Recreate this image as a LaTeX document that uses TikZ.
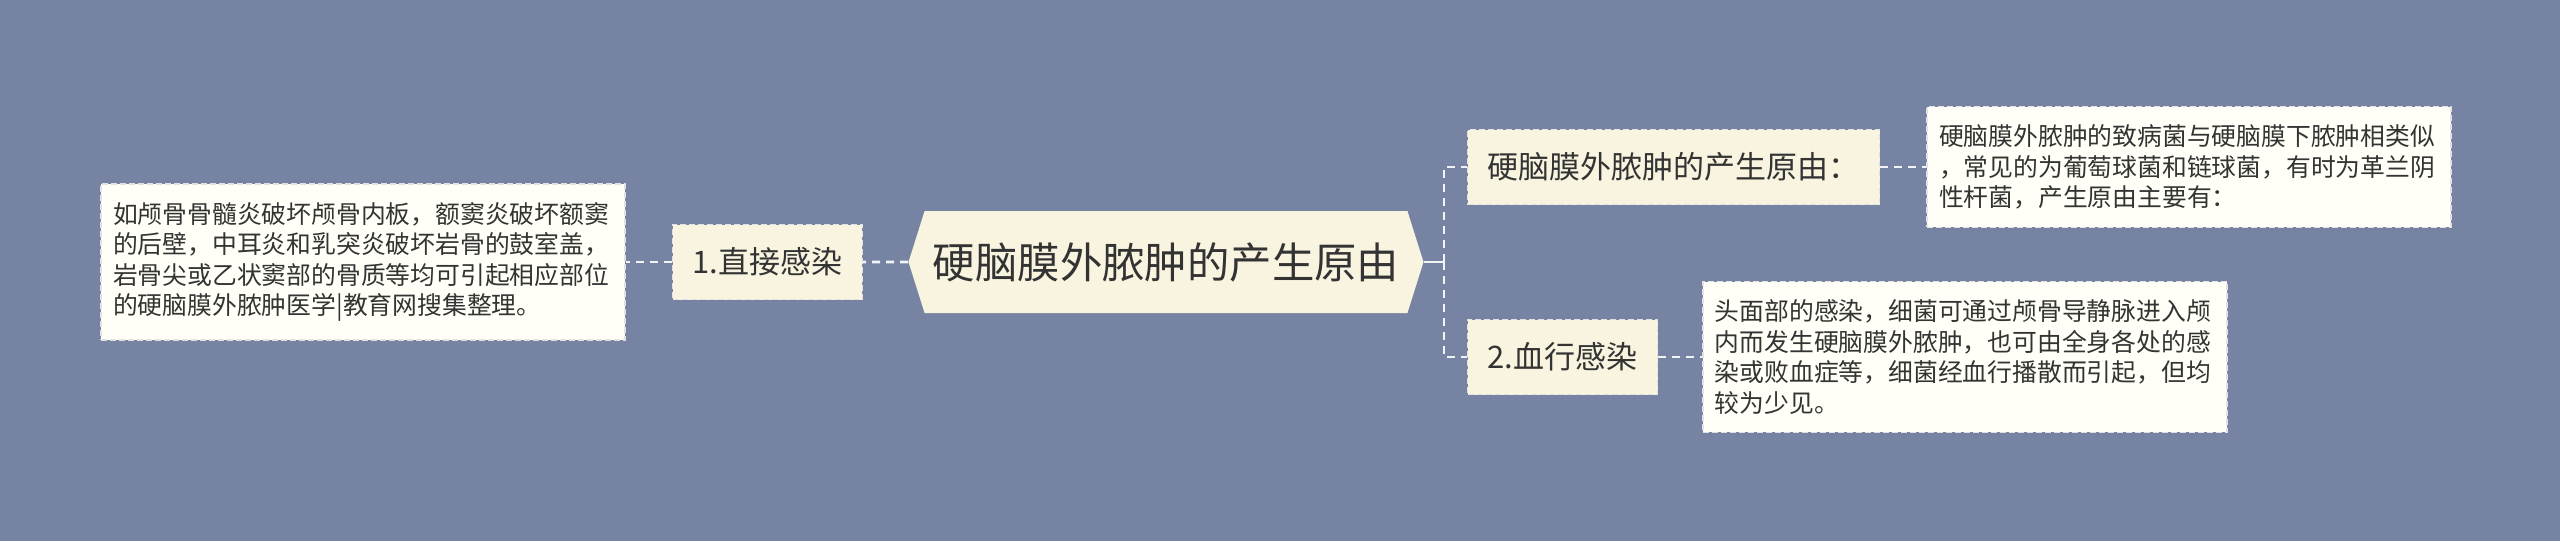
\documentclass[tikz,border=0pt]{standalone}
\usepackage{fontspec}
\setmainfont{Noto Sans CJK SC}
\usetikzlibrary{positioning,shapes.symbols}
\definecolor{slate}{HTML}{7783A3}
\definecolor{cream}{HTML}{F8F4E0}
\definecolor{paper}{HTML}{FFFFF7}
\definecolor{ink}{HTML}{333333}
\definecolor{rim}{HTML}{E2E2E2}

\begin{document}
\begin{tikzpicture}[x=0.5pt,y=-0.5pt,node distance=23pt,
      root node/.style={signal,signal to=west and east,signal pointer angle=145,
        fill=cream,text=ink,minimum width=257.5pt,minimum height=51pt,
        font=\fontsize{21.2pt}{25pt}\selectfont},
      topic node/.style={rectangle,draw=rim,line width=0.7pt,dash pattern=on 3pt off 1.5pt,
        fill=cream,text=ink,minimum height=37.5pt,inner xsep=10pt,
        font=\fontsize{15.5pt}{18pt}\selectfont},
      text node/.style={rectangle,draw=rim,line width=0.7pt,dash pattern=on 3pt off 1.5pt,
        fill=paper,text=ink,text width=250pt,align=left,inner xsep=6pt,inner ysep=9pt,
        font=\fontsize{12.4pt}{15.3pt}\selectfont},
      link/.style={draw=white!90!slate,line width=1.3pt,dash pattern=on 4pt off 3pt}]
 \useasboundingbox (0,0) rectangle (2560,541);
 \fill[slate] (0,0) rectangle (2560,541);

 \node[root node] (root) at (1166,262) {硬脑膜外脓肿的产生原由};
 \node[topic node] (direct) [left=22.5pt of root] {1.直接感染};
 \node[text node] (directtext) [left=of direct] {如颅骨骨髓炎破坏颅骨内板，额窦炎破坏额窦\\的后壁，中耳炎和乳突炎破坏岩骨的鼓室盖，\\岩骨尖或乙状窦部的骨质等均可引起相应部位\\的硬脑膜外脓肿医学|教育网搜集整理。};
 \coordinate (fork) at (1444,262);
 \node[topic node, anchor=west] (cause) at (1467,167) {硬脑膜外脓肿的产生原由：};
 \node[text node] (causetext) [right=of cause] {硬脑膜外脓肿的致病菌与硬脑膜下脓肿相类似\\，常见的为葡萄球菌和链球菌，有时为革兰阴\\性杆菌，产生原由主要有：};
 \node[topic node, anchor=west] (blood) at (1467,357) {2.血行感染};
 \node[text node] (bloodtext) [right=22pt of blood] {头面部的感染，细菌可通过颅骨导静脉进入颅\\内而发生硬脑膜外脓肿，也可由全身各处的感\\染或败血症等，细菌经血行播散而引起，但均\\较为少见。};

\path[link]
 (root) edge (direct)
 (direct) edge (directtext)
 (root.east) edge [solid] (fork)
 (fork) edge [to path={|- (\tikztotarget)}] (cause.west)
 (fork) edge [to path={|- (\tikztotarget)}] (blood.west)
 (cause) edge (causetext)
 (blood) edge (bloodtext)
 ;
\end{tikzpicture}
\end{document}
